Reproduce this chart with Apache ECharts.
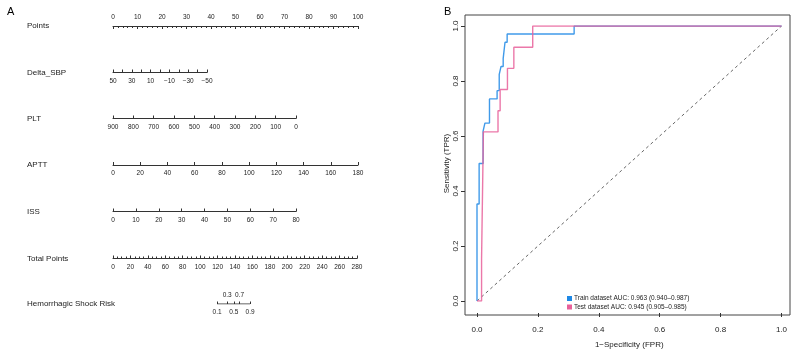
<!DOCTYPE html>
<html>
<head>
<meta charset="utf-8">
<script src="https://cdn.jsdelivr.net/npm/echarts@6/dist/echarts.min.js"></script>
<style>
  html, body { margin: 0; padding: 0; background: #fff; }
  #main { width: 794px; height: 354px; }
</style>
</head>
<body>
<div id="main"></div>
<script>
  // nomogram tick labels (panel A)
  const pointsLabels = [0, 10, 20, 30, 40, 50, 60, 70, 80, 90, 100]
  const deltaSbpLabels = [50, 30, 10, -10, -30, -50]
  const pltLabels = [900, 800, 700, 600, 500, 400, 300, 200, 100, 0]
  const apttLabels = [0, 20, 40, 60, 80, 100, 120, 140, 160, 180]
  const issLabels = [0, 10, 20, 30, 40, 50, 60, 70, 80]
  const totalPointsLabels = [0, 20, 40, 60, 80, 100, 120, 140, 160, 180, 200, 220, 240, 260, 280]
  const riskLabels = [0.1, 0.3, 0.5, 0.7, 0.9]
  const riskTotalPoints = [119.5, 131, 138.7, 145.2, 157.3] // where each risk sits on the total points scale

  // ROC curves (panel B), corner points of the step curves
  const trainFpr = [0, 0, 0.007, 0.020, 0.026, 0.041, 0.066, 0.073, 0.079, 0.086, 0.092, 0.099, 0.319, 1]
  const trainTpr = [0, 0.353, 0.5, 0.618, 0.647, 0.735, 0.765, 0.824, 0.853, 0.882, 0.941, 0.971, 1, 1]
  const testFpr = [0, 0.015, 0.021, 0.069, 0.076, 0.100, 0.121, 0.183, 1]
  const testTpr = [0, 0.154, 0.615, 0.692, 0.769, 0.846, 0.923, 1, 1]
  const trainName = 'Train dataset AUC: 0.963 (0.940\u20130.987)'
  const testName = 'Test dataset AUC: 0.945 (0.905\u20130.985)'

  const FONT = '"Liberation Sans", Arial, Helvetica, sans-serif'
  const TXT = '#222'
  const minus = v => String(v).replace('-', '\u2212')

  const rows = [
    { name: 'Points', y: 26, width: 245, min: 0, max: 100, interval: 10, minor: 5, labels: pointsLabels, top: true },
    { name: 'Delta_SBP', y: 72.5, width: 94, min: -50, max: 50, interval: 10, inverse: true, labels: deltaSbpLabels },
    { name: 'PLT', y: 118.5, width: 183, min: 0, max: 900, interval: 100, inverse: true, labels: pltLabels },
    { name: 'APTT', y: 165, width: 245, min: 0, max: 180, interval: 20, labels: apttLabels },
    { name: 'ISS', y: 211.5, width: 183, min: 0, max: 80, interval: 10, labels: issLabels },
    { name: 'Total Points', y: 258.5, width: 244, min: 0, max: 280, interval: 20, minor: 4, labels: totalPointsLabels }
  ]

  const grid = []
  const xAxis = []
  const yAxis = []
  const series = []
  const graphic = []

  const labelStyle = { fontFamily: FONT, fontSize: 6.5, color: TXT }

  rows.forEach((r, i) => {
    grid.push(r.top
      ? { left: 113, width: r.width, top: r.y, height: 10 }
      : { left: 113, width: r.width, top: r.y - 10, height: 10 })
    xAxis.push({
      gridIndex: i,
      type: 'value',
      position: r.top ? 'top' : 'bottom',
      min: r.min,
      max: r.max,
      interval: r.interval,
      inverse: !!r.inverse,
      splitLine: { show: false },
      axisLine: { show: true, onZero: false, lineStyle: { color: '#333', width: 1 } },
      axisTick: { show: true, inside: true, length: 3, lineStyle: { color: '#333' } },
      minorTick: { show: !!r.minor, splitNumber: r.minor || 5, length: 2, lineStyle: { color: '#333' } },
      axisLabel: { ...labelStyle, margin: 5, customValues: r.labels, formatter: minus }
    })
    yAxis.push({ gridIndex: i, type: 'value', show: false, min: 0, max: 1 })
  })

  // risk row, on the total points scale
  const ri = rows.length
  grid.push({ left: 113, width: 244, top: 304 - 10, height: 10 })
  const riskBelow = riskTotalPoints.filter((v, k) => k % 2 === 0)
  const riskAbove = riskTotalPoints.filter((v, k) => k % 2 === 1)
  const riskFmt = v => String(riskLabels[riskTotalPoints.indexOf(v)])
  xAxis.push({
    gridIndex: ri, type: 'value', position: 'bottom', min: 0, max: 280,
    splitLine: { show: false }, axisLine: { show: false, onZero: false },
    axisTick: { show: true, inside: true, length: 2.5, customValues: riskTotalPoints, lineStyle: { color: '#333' } },
    axisLabel: { ...labelStyle, margin: 5, customValues: riskBelow, formatter: riskFmt }
  })
  xAxis.push({
    gridIndex: ri, type: 'value', position: 'bottom', min: 0, max: 280,
    splitLine: { show: false }, axisLine: { show: false, onZero: false }, axisTick: { show: false },
    axisLabel: { ...labelStyle, inside: true, margin: 5, customValues: riskAbove, formatter: riskFmt }
  })
  yAxis.push({ gridIndex: ri, type: 'value', show: false, min: 0, max: 1 })
  series.push({
    type: 'line', xAxisIndex: ri, yAxisIndex: ri, silent: true, symbol: 'none',
    lineStyle: { color: '#333', width: 1 },
    data: [[riskTotalPoints[0], 0], [riskTotalPoints[riskTotalPoints.length - 1], 0]]
  })

  rows.concat([{ name: 'Hemorrhagic Shock Risk', y: 304 }]).forEach(r => {
    graphic.push({
      type: 'text', left: 27, top: r.y - 4,
      style: { text: r.name, font: '8px ' + FONT, fill: TXT }
    })
  })

  // panel B: frame grid and data grid
  const bi = ri + 1
  grid.push({ left: 465, top: 15, right: 4, bottom: 39, show: true, borderColor: '#444', borderWidth: 1, backgroundColor: 'transparent' })
  xAxis.push({ gridIndex: bi, type: 'value', show: false, min: 0, max: 1 })
  xAxis.push({ gridIndex: bi, type: 'value', show: false, min: 0, max: 1 })
  yAxis.push({ gridIndex: bi, type: 'value', show: false, min: 0, max: 1 })

  const di = bi + 1
  grid.push({ left: 477, top: 26, right: 12.5, bottom: 51 })
  const rocXIndex = xAxis.length
  xAxis.push({
    gridIndex: di, type: 'value', min: 0, max: 1, interval: 0.2, offset: 12,
    name: '1\u2212Specificity (FPR)', nameLocation: 'middle', nameGap: 28,
    nameTextStyle: { fontFamily: FONT, fontSize: 8, color: TXT },
    splitLine: { show: false }, axisLine: { show: false, onZero: false },
    axisTick: { show: true, length: 4, lineStyle: { color: '#333', width: 1 } },
    axisLabel: { fontFamily: FONT, fontSize: 8, color: TXT, margin: 13, formatter: v => v.toFixed(1) }
  })
  const rocYIndex = yAxis.length
  yAxis.push({
    gridIndex: di, type: 'value', min: 0, max: 1, interval: 0.2, offset: 12,
    name: 'Sensitivity (TPR)', nameLocation: 'middle', nameGap: 14,
    nameTextStyle: { fontFamily: FONT, fontSize: 8, color: TXT },
    splitLine: { show: false }, axisLine: { show: false, onZero: false },
    axisTick: { show: true, length: 4, lineStyle: { color: '#333', width: 1 } },
    axisLabel: { fontFamily: FONT, fontSize: 8, color: TXT, margin: 5, rotate: 90, formatter: v => v.toFixed(1) }
  })

  series.push({
    type: 'line', xAxisIndex: rocXIndex, yAxisIndex: rocYIndex, silent: true, symbol: 'none',
    lineStyle: { color: '#666', width: 1, type: [3, 3] },
    data: [[0, 0], [1, 1]]
  })
  const rocSeries = (name, fpr, tpr, color) => ({
    name,
    type: 'line',
    xAxisIndex: rocXIndex,
    yAxisIndex: rocYIndex,
    step: 'end',
    symbol: 'none',
    color,
    lineStyle: { color, width: 1.4, opacity: 0.85 },
    data: fpr.map((x, k) => [x, tpr[k]])
  })
  series.push(rocSeries(trainName, trainFpr, trainTpr, '#1E88E5'))
  series.push(rocSeries(testName, testFpr, testTpr, '#E8609A'))

  const chart = echarts.init(document.getElementById('main'))
  chart.setOption({
    animation: false,
    title: [
      { text: 'A', left: 2, top: 1, textStyle: { fontFamily: FONT, fontSize: 11, fontWeight: 'normal', color: '#000' } },
      { text: 'B', left: 439, top: 1, textStyle: { fontFamily: FONT, fontSize: 11, fontWeight: 'normal', color: '#000' } }
    ],
    legend: {
      data: [trainName, testName],
      orient: 'vertical',
      left: 567,
      top: 295,
      padding: 0,
      itemWidth: 5,
      itemHeight: 5,
      itemGap: 1.5,
      icon: 'rect',
      textStyle: { fontFamily: FONT, fontSize: 6.5, color: TXT, lineHeight: 7, padding: [0, 0, 0, -3] }
    },
    graphic,
    grid,
    xAxis,
    yAxis,
    series
  })
</script>
</body>
</html>
